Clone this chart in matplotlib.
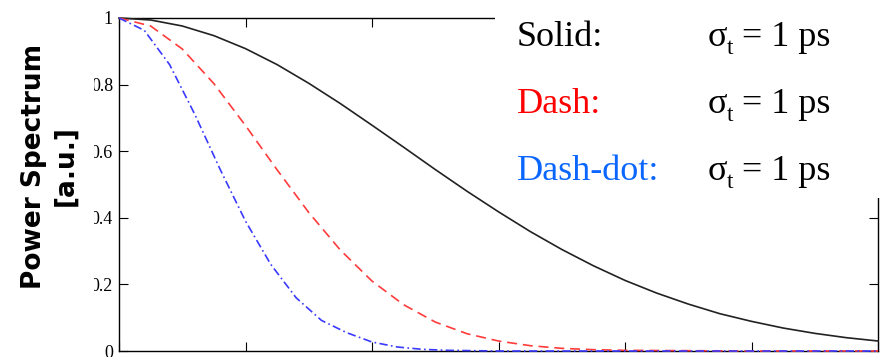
import matplotlib.pyplot as plt
from matplotlib.patches import Rectangle

# values (time axis 0..6, normalised power)
t_solid = [0, 0.25, 0.5, 0.75, 1, 1.25, 1.5, 1.75, 2, 2.25, 2.5, 2.75, 3,
           3.25, 3.5, 3.75, 4, 4.25, 4.5, 4.75, 5, 5.25, 5.5, 5.75, 6]
p_solid = [1.0, 0.994, 0.976, 0.947, 0.908, 0.860, 0.804, 0.743, 0.678,
           0.612, 0.545, 0.480, 0.418, 0.359, 0.305, 0.256, 0.212, 0.174,
           0.141, 0.112, 0.089, 0.069, 0.053, 0.040, 0.030]

t_dash = [0, 0.25, 0.5, 0.75, 1, 1.25, 1.5, 1.75, 2, 2.25, 2.5, 2.75, 3,
          3.25, 3.5, 3.75, 4, 5, 6]
p_dash = [1.0, 0.976, 0.907, 0.803, 0.677, 0.544, 0.416, 0.303, 0.210,
          0.139, 0.087, 0.052, 0.030, 0.016, 0.008, 0.004, 0.002, 0.0, 0.0]

t_dashdot = [0, 0.2, 0.4, 0.6, 0.8, 1.0, 1.2, 1.4, 1.6, 1.8, 2.0, 2.2,
             2.4, 2.6, 2.8, 3.0, 4, 5, 6]
p_dashdot = [1.0, 0.963, 0.86, 0.71, 0.545, 0.39, 0.26, 0.16, 0.092, 0.055,
             0.027, 0.012, 0.005, 0.002, 0.001, 0.0, 0.0, 0.0, 0.0]

y_ticks = [0, 0.2, 0.4, 0.6, 0.8, 1]
y_ticklabels = ["0", "0.2", "0.4", "0.6", "0.8", "1"]
x_ticks = [0, 1, 2, 3, 4, 5, 6]

legend_names = ["Solid:", "Dash:", "Dash-dot:"]
legend_colors = ["black", "#ff0000", "#0a66ff"]

serif = "Liberation Serif"
W, H = 886, 357
fig = plt.figure(figsize=(W / 100, H / 100), dpi=100)
ax = fig.add_axes([119 / W, 1 - 351 / H, (878 - 119) / W, (351 - 18) / H])

ax.plot(t_solid, p_solid, color="#222222", lw=1.2, zorder=3, clip_on=False)
ax.plot(t_dash, p_dash, color="#ff3b3b", lw=1.2, ls=(0, (6, 3.5)),
        zorder=3, clip_on=False)
ax.plot(t_dashdot, p_dashdot, color="#3a3aff", lw=1.2, ls=(0, (5, 2, 1, 2)),
        zorder=3, clip_on=False)

ax.set_xlim(0, 6)
ax.set_ylim(0, 1)
ax.set_xticks(x_ticks)
ax.set_xticklabels([])
ax.set_yticks(y_ticks)
ax.set_yticklabels(y_ticklabels)
ax.tick_params(direction="in", length=6.5, width=0.8, pad=4.3,
               top=True, right=True, labelsize=13, labelfontfamily=serif)
for s in ax.spines.values():
    s.set_linewidth(1.0)

# white areas that hide part of the axes (like the original slide)
fig.patches.append(Rectangle((0, 0), 94 / W, 1, transform=fig.transFigure,
                             facecolor="white", edgecolor="none", zorder=5))
fig.patches.append(Rectangle((495 / W, 1 - 198 / H), 1, 1,
                             transform=fig.transFigure, facecolor="white",
                             edgecolor="none", zorder=5))

fig.text(50 / W, 1 - 166 / H, "Power Spectrum\n[a.u.]", rotation=90,
         ha="center", va="center", multialignment="center", fontsize=19,
         fontweight="bold", linespacing=1.25, zorder=6)

base = [46, 113, 180]
for name, col, yb in zip(legend_names, legend_colors, base):
    fig.text(517 / W, 1 - yb / H, name, color=col, fontfamily=serif,
             fontsize=26, va="baseline", zorder=6)
    fig.text(708 / W, 1 - yb / H, "σ", fontfamily=serif, fontsize=26,
             va="baseline", zorder=6)
    fig.text(727 / W, 1 - (yb + 8) / H, "t", fontfamily=serif, fontsize=17,
             va="baseline", zorder=6)
    fig.text(742 / W, 1 - yb / H, "= 1 ps", fontfamily=serif, fontsize=26,
             va="baseline", zorder=6)

fig.savefig("out.png", dpi=100)
